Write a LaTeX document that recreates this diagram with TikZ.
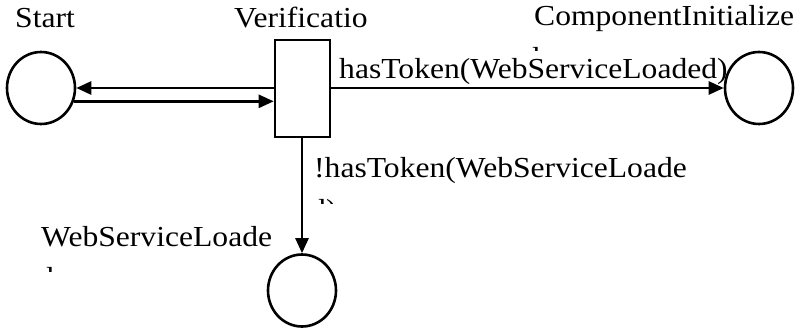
\documentclass[tikz,border=0pt]{standalone}
\usepackage{fontspec}
\setmainfont[FakeStretch=1.09]{Liberation Serif}
\usetikzlibrary{arrows.meta,shapes.geometric}
\begin{document}
\begin{tikzpicture}[x=1pt,y=-1pt,
  place/.style={draw,ellipse,line width=2.6pt,inner sep=0pt,minimum width=68pt,minimum height=72pt},
  trans/.style={draw,rectangle,line width=2.6pt,inner sep=0pt,minimum width=55pt,minimum height=97pt},
  arr/.style={line width=2.6pt,-{Triangle[length=15pt,width=13pt]}},
  lbl/.style={inner sep=0pt,anchor=base west,font=\fontsize{29}{41}\selectfont}]
\useasboundingbox (0,0) rectangle (795,329);
% places and transition
\node[place] (start) at (41,88) {};
\node[trans] (verif) at (302.5,88.5) {};
\node[place] (ci) at (759,88) {};
\node[place] (wsl) at (302,290.5) {};
% labels
\node[lbl] (tstart) at (15,28) {Start};
\node[lbl] (tverif) at (234,28) {Verificatio};
\node[lbl] (tci) at (534,26) {ComponentInitialize};
\node[lbl] (thas) at (339,78) {hasToken(WebServiceLoaded)};
\node[lbl] (tnhas) at (314,177) {!hasToken(WebServiceLoade};
\node[lbl] (twsl) at (41,246) {WebServiceLoade};
% clipped second lines
\begin{scope}
\clip (520,46) rectangle (560,51);
\node[lbl] (tci2) at (524,67) {d};
\end{scope}
\begin{scope}
\clip (300,197) rectangle (345,203);
\node[lbl] (tnhas2) at (310,219) {d)};
\end{scope}
\begin{scope}
\clip (30,265) rectangle (70,271);
\node[lbl] (twsl2) at (38,287) {d};
\end{scope}
% arcs
\draw[arr] (verif.west |- start.east) -- (start.east);
\draw[arr] (start.-22.5) -- (verif.west |- start.-22.5);
\draw[arr] (verif.east |- ci.west) -- (ci.west);
\draw[arr] (verif.south -| wsl.north) -- (wsl.north);
\end{tikzpicture}
\end{document}
